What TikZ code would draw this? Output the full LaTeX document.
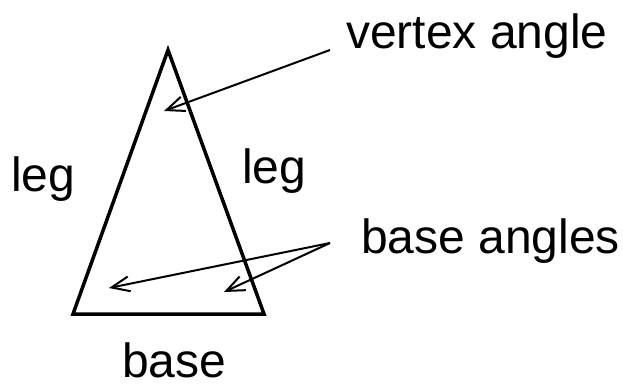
\documentclass[tikz,border=0pt]{standalone}
\usepackage{fontspec}
\setmainfont{Liberation Sans}
\usetikzlibrary{arrows.meta}
\begin{document}
\begin{tikzpicture}[x=1pt,y=-1pt,
  lbl/.style={inner sep=0pt,anchor=base west,font=\fontsize{48}{52}\selectfont},
  ptr/.style={line width=2pt,-{Straight Barb[length=18pt,width=15pt,line width=2pt]}}]
\useasboundingbox (0,0) rectangle (623,386);
\coordinate (A) at (168,50);
\coordinate (B) at (73,314);
\coordinate (C) at (264,314);
\draw[line width=3.5pt,line join=miter] (A) -- (B) -- (C) -- cycle;
\node[lbl] (vt) at (346,48) {vertex angle};
\node[lbl] (lg1) at (11,191) {leg};
\node[lbl] (lg2) at (242,183) {leg};
\node[lbl] (ba) at (361,253) {base angles};
\node[lbl] (bs) at (122,377) {base};
\coordinate (vs) at (330,50);
\coordinate (vtip) at (164,111);
\coordinate (bsrc) at (330,243);
\coordinate (btip1) at (109,288);
\coordinate (btip2) at (224,292);
\draw[ptr] (vs) -- (vtip);
\draw[ptr] (bsrc) -- (btip1);
\draw[ptr] (bsrc) -- (btip2);
\end{tikzpicture}
\end{document}
